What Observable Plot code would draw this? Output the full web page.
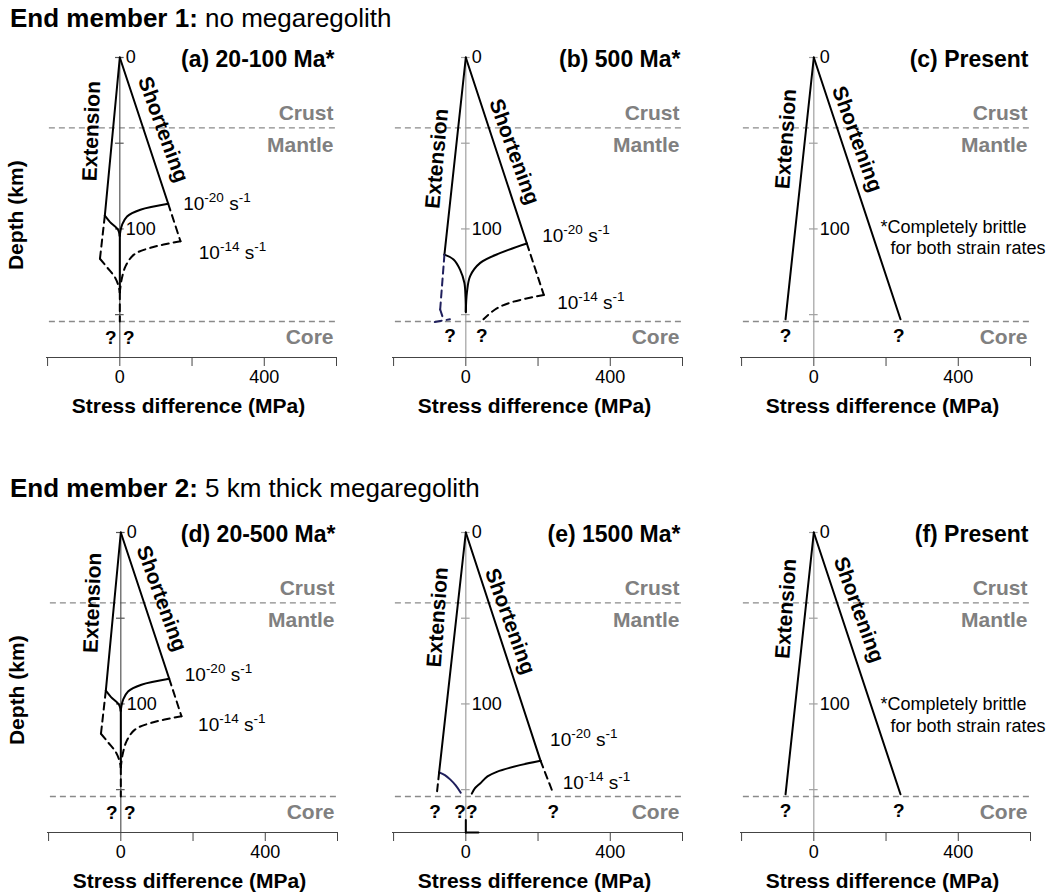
<!DOCTYPE html>
<html><head><meta charset="utf-8">
<script src="https://cdn.jsdelivr.net/npm/d3@7"></script>
<script src="https://cdn.jsdelivr.net/npm/@observablehq/plot@0.6"></script>
<style>
body{margin:0;background:#fff;font-family:"Liberation Sans",Arial,sans-serif;}
#root{position:relative;width:1053px;height:893px;overflow:hidden;background:#fff;}
.hdr{position:absolute;left:10px;font-size:26px;line-height:26px;white-space:nowrap;color:#000}
.hdr b{font-weight:bold}
</style></head><body><div id="root"></div>
<script>
// ---------- shared axis values ----------
const xTicks = [-200, 0, 200, 400, 600];
const xTickLabels = [0, 400];
const depthTicks = [0, 50, 100, 150];
const depthTickLabels = [0, 100];
const xMin = -203, xMax = 600, depthMax = 175;
const boundaries = [41, 154];            // crust/mantle and mantle/core depth (km)
const layerNames = ["Crust", "Mantle", "Core"];
const rowTitles = [["End member 1:", " no megaregolith"], ["End member 2:", " 5 km thick megaregolith"]];
const panelTitles = ["(a) 20-100 Ma*", "(b) 500 Ma*", "(c) Present", "(d) 20-500 Ma*", "(e) 1500 Ma*", "(f) Present"];
const rate20 = "10^{-20} s^{-1}", rate14 = "10^{-14} s^{-1}";
const noteLines = ["*Completely brittle", "for both strain rates"];

// ---------- panel (a) and (d): young, hot lithosphere ----------
const aSolid = [
  [[0, 0], [-41.5, 92.3]],
  [[0, 0], [134, 85.3]],
  [[-41.5, 92.3], [-27, 96], [-12, 98.8], [-4, 100.8], [-0.5, 104]],
  [[134, 85.3], [57, 88.8], [20, 92.7], [6.5, 97.5], [1.5, 101.5], [0, 104]],
  [[0, 104], [0, 137]]
];
const aDashed = [
  [[-41.5, 92.3], [-55, 117.4]],
  [[134, 85.3], [168, 107.2]],
  [[-55, 117.4], [-35, 122.5], [-14, 128], [-4, 133], [0, 137]],
  [[168, 107.2], [85, 111], [39, 115], [16, 121.7], [5, 129.5], [0, 137]],
  [[0, 137], [0, 154]]
];
const aQuestion = [[-25, 163.4], [25, 163.4]];

// ---------- panel (b): 500 Ma ----------
const bSolid = [
  [[0, 0], [-59.2, 115]],
  [[0, 0], [169, 108.5]],
  [[-59.2, 115], [-34, 117.8], [-16, 123.7], [-4, 131.4], [-0.8, 140], [0, 148.5]],
  [[169, 108.5], [96, 114], [40, 119.8], [12, 127.5], [3, 137.2], [0, 148.5]]
];
const bDashed = [
  [[169, 108.5], [216, 138.5]],
  [[216, 138.5], [123, 143], [81, 147], [49, 152.7]]
];
const bDashedNavy = [
  [[-59.2, 115], [-71, 147]],
  [[-71, 147], [-64, 151.5]],
  [[-86, 154.3], [-44, 152.7]]
];
const bQuestion = [[-43.4, 162.4], [44.3, 162.4]];

// ---------- panel (c) and (f): present, completely brittle ----------
const cSolid = [
  [[0, 0], [-78.3, 152.7]],
  [[0, 0], [240, 152.7]]
];
const cQuestion = [[-78.3, 162.4], [235.3, 162.4]];

// ---------- panel (e): 1500 Ma ----------
const eSolid = [
  [[0, 0], [-73.9, 139.9]],
  [[0, 0], [207, 133.2]],
  [[16.6, 152.3], [24, 149.5], [39.6, 146.4], [60, 142.3], [85.8, 139.6], [150, 135.7], [207, 133.2]],
  [[0, 167.7], [0, 175]],
  [[0, 175], [35, 175]]
];
const eSolidNavy = [
  [[-73.9, 139.9], [-58, 141.5], [-43.5, 144], [-28, 147.5], [-14, 151.8]]
];
const eDashed = [
  [[-73.9, 139.9], [-80.3, 152.5]],
  [[207, 133.2], [242.5, 152.5]]
];
const eQuestion = [[-85, 162.8], [-15.8, 162.8], [16.6, 162.8], [242.5, 162.8]];

// ---------- build ----------
const root = document.getElementById("root");
const rows = paths => paths.flatMap((p, i) => p.map(([x, y]) => ({x, y, id: i})));
const NAVY = "#1f1f5c";

rowTitles.forEach((t, i) => {
  const d = document.createElement("div");
  d.className = "hdr";
  d.style.top = (i === 0 ? 4.7 : 474.7) + "px";
  const b = document.createElement("b"); b.textContent = t[0];
  d.appendChild(b); d.appendChild(document.createTextNode(t[1]));
  root.appendChild(d);
});

const panels = [
  {title: panelTitles[0], left: 0, top: 35.3, axis: "#555", depthLabel: true,
   solid: aSolid, dashed: aDashed, q: aQuestion,
   ext: [-78, 43, -88], sho: [120, 42, 70], r20: [175.5, 85.5], r14: [218.7, 114]},
  {title: panelTitles[1], left: 346.4, top: 35.3, axis: "#a0a0a0",
   solid: bSolid, dashed: bDashed, dashedNavy: bDashedNavy, q: bQuestion,
   ext: [-80, 59, -85], sho: [134, 55, 70], r20: [211.5, 104.3], r14: [252.9, 143]},
  {title: panelTitles[2], left: 694, top: 35.3, axis: "#a0a0a0",
   solid: cSolid, q: cQuestion, note: [[184.7, 98.8], [212.4, 111.4]],
   ext: [-77, 47.5, -86], sho: [120, 47.6, 70]},
  {title: panelTitles[3], left: 1, top: 509.7, axis: "#555", depthLabel: true,
   solid: aSolid, dashed: aDashed, q: aQuestion,
   ext: [-78, 41, -88], sho: [113, 38.5, 70], r20: [177, 83.3], r14: [214, 112.4]},
  {title: panelTitles[4], left: 346.4, top: 509.7, axis: "#a0a0a0",
   solid: eSolid, solidNavy: eSolidNavy, dashed: eDashed, q: eQuestion,
   ext: [-78, 49.4, -86], sho: [122.6, 51.8, 70], r20: [233.4, 121.1], r14: [268.5, 146.3]},
  {title: panelTitles[5], left: 694, top: 509.7, axis: "#a0a0a0",
   solid: cSolid, q: cQuestion, note: [[184.7, 100.1], [212.4, 112.8]],
   ext: [-77, 44.5, -86], sho: [124.6, 45, 70]}
];

panels.forEach(p => {
  const marks = [
    Plot.ruleY(boundaries, {x1: -195, x2: xMax, stroke: "#8a8a8a", strokeWidth: 1.3, strokeDasharray: "6,4"}),
    Plot.ruleX([0], {y1: 0, y2: depthMax, stroke: p.axis, strokeWidth: 1.2}),
    Plot.ruleY(depthTicks, {x1: -12, x2: 12, stroke: p.axis, strokeWidth: 1.2}),
    Plot.text(depthTickLabels, {x: 0, y: d => d, text: d => String(d), dx: 6, textAnchor: "start", fontSize: 18}),
    Plot.ruleY([depthMax], {x1: xMin, x2: xMax, stroke: "#444", strokeWidth: 1.2}),
    Plot.axisX(xTicks, {tickSize: 9, tickPadding: 4, stroke: "#444", fontSize: 18,
      tickFormat: d => xTickLabels.includes(d) ? String(d) : "", label: null}),
    Plot.text(["Stress difference (MPa)"], {x: 190, y: depthMax, dy: 49, fontWeight: "bold", fontSize: 21}),
    Plot.text(layerNames, {x: xMax, y: (d, i) => [32.7, 51.2, 163.4][i], dx: -3, textAnchor: "end",
      fill: "#808080", fontWeight: "bold", fontSize: 21}),
    Plot.text([p.title], {x: xMax, y: 1, dx: -2, textAnchor: "end", fontWeight: "bold", fontSize: 23}),
    Plot.text(["Extension"], {x: p.ext[0], y: p.ext[1], rotate: p.ext[2], fontWeight: "bold", fontSize: 21}),
    Plot.text(["Shortening"], {x: p.sho[0], y: p.sho[1], rotate: p.sho[2], fontWeight: "bold", fontSize: 21}),
    Plot.line(rows(p.solid), {x: "x", y: "y", z: "id", curve: "catmull-rom", stroke: "#000", strokeWidth: 2})
  ];
  if (p.solidNavy) marks.push(Plot.line(rows(p.solidNavy), {x: "x", y: "y", z: "id", curve: "catmull-rom", stroke: NAVY, strokeWidth: 2}));
  if (p.dashed) marks.push(Plot.line(rows(p.dashed), {x: "x", y: "y", z: "id", curve: "catmull-rom", stroke: "#000", strokeWidth: 2, strokeDasharray: "7,5"}));
  if (p.dashedNavy) marks.push(Plot.line(rows(p.dashedNavy), {x: "x", y: "y", z: "id", curve: "catmull-rom", stroke: NAVY, strokeWidth: 2, strokeDasharray: "7,5"}));
  marks.push(Plot.text(p.q, {x: d => d[0], y: d => d[1], text: () => "?", fontWeight: "bold", fontSize: 19}));
  if (p.r20) {
    marks.push(Plot.text([rate20], {x: p.r20[0], y: p.r20[1], textAnchor: "start", fontSize: 19}));
    marks.push(Plot.text([rate14], {x: p.r14[0], y: p.r14[1], textAnchor: "start", fontSize: 19}));
  }
  if (p.note) {
    marks.push(Plot.text([noteLines[0]], {x: p.note[0][0], y: p.note[0][1], textAnchor: "start", fontSize: 18}));
    marks.push(Plot.text([noteLines[1]], {x: p.note[1][0], y: p.note[1][1], textAnchor: "start", fontSize: 18}));
  }
  if (p.depthLabel) marks.push(Plot.text(["Depth (km)"], {x: -287, y: 92, rotate: -90, fontWeight: "bold", fontSize: 21}));

  const svg = Plot.plot({
    width: 347, height: 392,
    marginLeft: 46, marginRight: 11, marginTop: 22, marginBottom: 70,
    x: {domain: [xMin, xMax], axis: null},
    y: {domain: [0, depthMax], reverse: true, axis: null},
    style: {fontFamily: "'Liberation Sans', Arial, sans-serif", overflow: "visible", background: "transparent", color: "#000"},
    marks
  });
  // superscripts
  svg.querySelectorAll("text").forEach(t => {
    const s = t.textContent;
    if (!s.includes("^{")) return;
    const parts = s.split(/\^\{([^}]*)\}/);
    t.textContent = "";
    parts.forEach((part, i) => {
      if (part === "") return;
      const ts = document.createElementNS("http://www.w3.org/2000/svg", "tspan");
      ts.textContent = part;
      if (i % 2 === 1) { ts.setAttribute("font-size", "13.5"); ts.setAttribute("dy", "-8"); }
      else if (i > 0) ts.setAttribute("dy", "8");
      t.appendChild(ts);
    });
  });
  svg.style.position = "absolute";
  svg.style.left = p.left + "px";
  svg.style.top = p.top + "px";
  svg.style.maxWidth = "none";
  root.appendChild(svg);
});
</script></body></html>
